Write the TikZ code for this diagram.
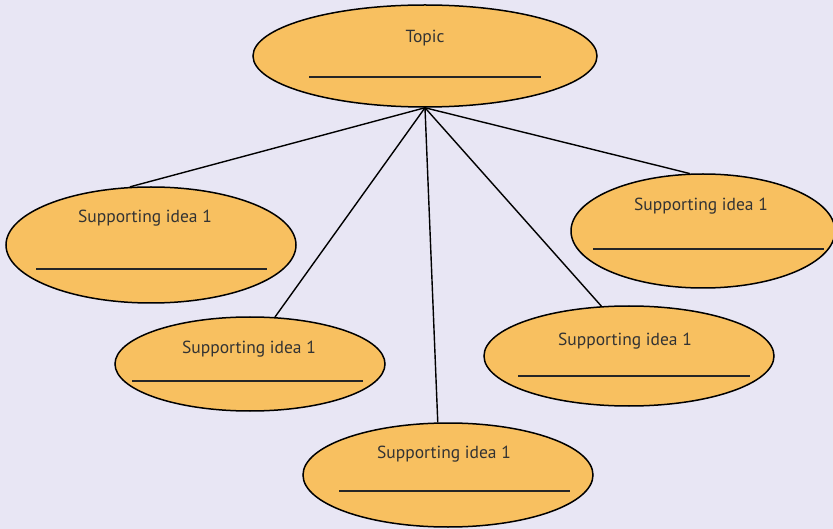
\documentclass[tikz,border=0pt]{standalone}
\usepackage{fontspec}
\setmainfont{PT Sans}
\usetikzlibrary{shapes.geometric}
\definecolor{bgcol}{HTML}{E8E6F4}
\definecolor{bubblefill}{HTML}{F8C060}
\definecolor{inkcol}{HTML}{333333}
\tikzset{
  bubble/.style={ellipse, draw=black, line width=1.5pt, fill=bubblefill, inner sep=0pt},
  caption/.style={text=inkcol, font=\fontsize{17.5}{20}\selectfont, inner sep=0pt},
  rule/.style={line width=1.9pt, draw=black!85},
  link/.style={line width=1.4pt, draw=black},
}
\begin{document}
\begin{tikzpicture}[x=1pt,y=-1pt]
  \fill[bgcol] (0,0) rectangle (833,529);
  \useasboundingbox (0,0) rectangle (833,529);

  % bubbles
  \node[bubble, minimum width=344pt, minimum height=102pt] (topic) at (425,56) {};
  \node[bubble, minimum width=290pt, minimum height=116pt] (e1) at (151,245) {};
  \node[bubble, minimum width=270pt, minimum height=94pt]  (e2) at (250,364) {};
  \node[bubble, minimum width=290pt, minimum height=104pt] (e3) at (448,475) {};
  \node[bubble, minimum width=290pt, minimum height=100pt] (e4) at (629,356) {};
  \node[bubble, minimum width=264pt, minimum height=114pt] (e5) at (703,231) {};

  % connectors from the topic to each idea
  \draw[link] (topic.south) -- (e1.110);
  \draw[link] (topic.south) -- (e2.62);
  \draw[link] (topic.south) -- (e3.101);
  \draw[link] (topic.south) -- (e4.119);
  \draw[link] (topic.south) -- (e5.103);

  % captions
  \node[caption] (tt) at (425,38)  {Topic};
  \node[caption] (t1) at (145,218) {Supporting idea 1};
  \node[caption] (t2) at (249,349) {Supporting idea 1};
  \node[caption] (t3) at (444,454) {Supporting idea 1};
  \node[caption] (t4) at (625,341) {Supporting idea 1};
  \node[caption] (t5) at (701,206) {Supporting idea 1};

  % writing lines
  \draw[rule] (309,77) -- (541,77);
  \draw[rule] (36,269) -- (267,269);
  \draw[rule] (132,381) -- (363,381);
  \draw[rule] (339,491) -- (570,491);
  \draw[rule] (518,376) -- (750,376);
  \draw[rule] (593,249) -- (824,249);
\end{tikzpicture}
\end{document}
